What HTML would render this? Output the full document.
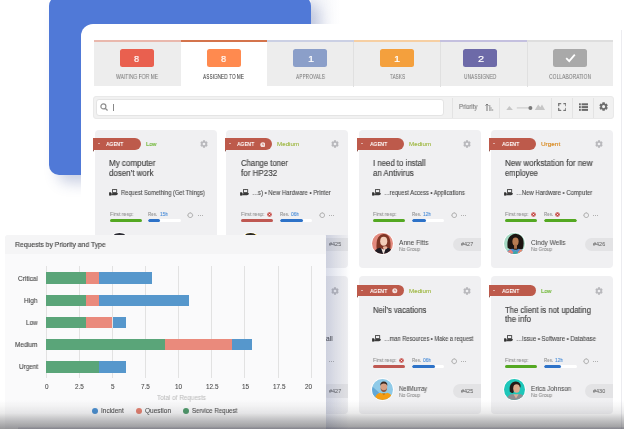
<!DOCTYPE html><html><head><meta charset="utf-8"><style>
*{margin:0;padding:0;box-sizing:border-box}
html,body{width:624px;height:429px;overflow:hidden;background:#fff;font-family:"Liberation Sans", sans-serif;position:relative}
.a{position:absolute}
.t{position:absolute;white-space:nowrap;line-height:1;transform-origin:0 0;will-change:transform}
.tab{position:absolute;top:40.2px;height:45.5px;background:#ededed}
.card{position:absolute;width:122.1px;height:138px;background:#f0f0f2;border-radius:4px}
.tag{position:absolute;width:47.2px;height:11.2px;background:#bd5a4b;border-radius:0 6px 6px 0}
.fold{position:absolute;width:0;height:0;border-top:2.2px solid #6e271e;border-left:1.7px solid transparent}
.bar{position:absolute;height:3px;border-radius:1.5px;overflow:hidden}
.pill{position:absolute;width:27.3px;height:13.5px;background:#e3e3e5;border-radius:7px 0 0 7px}
.av{position:absolute;width:23px;height:23px;border-radius:50%;overflow:hidden;border:0.75px solid #fff}
</style></head><body><div style="position:absolute;left:0;top:0;width:624px;height:429px;overflow:hidden;filter:blur(0.25px)">
<div class="a" style="left:49px;top:-4px;width:262px;height:178.6px;background:#5079d7;border-radius:10px;box-shadow:9px 8px 14px rgba(60,80,150,0.27)"></div>
<div class="a" style="left:81px;top:23.7px;width:541px;height:420px;background:#fff;border-radius:12px"></div>
<div class="a" style="left:311px;top:0;width:30px;height:24px;background:linear-gradient(to right,rgba(70,90,160,0.07),rgba(70,90,160,0.04) 50%,rgba(70,90,160,0))"></div>
<div class="a" style="left:621.2px;top:30px;width:0.8px;height:400px;background:rgba(110,110,140,0.13)"></div>
<div class="tab" style="left:94.00px;width:86.58px;background:#ededed"></div>
<div class="a" style="left:94.00px;top:40.1px;width:86.58px;height:1.6px;background:#e9b8ad"></div>
<div class="a" style="left:120.29px;top:48.5px;width:34px;height:18.4px;border-radius:2.5px;background:#e9604f"></div>
<div class="t" style="left:134.49px;top:54px;font-size:9.8px;color:#fff;transform:scaleX(0.933);-webkit-text-stroke:0.2px #fff;">8</div>
<div class="t" style="left:116.29px;top:74px;font-size:6.3px;color:#7d7d7d;transform:scaleX(0.796);-webkit-text-stroke:0.05px #7d7d7d;">WAITING FOR ME</div>
<div class="tab" style="left:180.58px;width:86.58px;background:#fff"></div>
<div class="a" style="left:180.58px;top:40.1px;width:86.58px;height:2px;background:#d4744c"></div>
<div class="a" style="left:206.87px;top:48.5px;width:34px;height:18.4px;border-radius:2.5px;background:#ff8a4f"></div>
<div class="t" style="left:221.07px;top:54px;font-size:9.8px;color:#fff;transform:scaleX(0.933);-webkit-text-stroke:0.2px #fff;">8</div>
<div class="t" style="left:203.37px;top:74px;font-size:6.3px;color:#3c3c3c;transform:scaleX(0.760);-webkit-text-stroke:0.05px #3c3c3c;">ASSIGNED TO ME</div>
<div class="tab" style="left:267.17px;width:86.58px;background:#ededed"></div>
<div class="a" style="left:267.17px;top:40.1px;width:86.58px;height:1.6px;background:#cbd0e4"></div>
<div class="a" style="left:293.46px;top:48.5px;width:34px;height:18.4px;border-radius:2.5px;background:#8b9fc9"></div>
<div class="t" style="left:307.66px;top:54px;font-size:9.8px;color:#fff;transform:scaleX(1.120);-webkit-text-stroke:0.2px #fff;">1</div>
<div class="t" style="left:296.06px;top:74px;font-size:6.3px;color:#7d7d7d;transform:scaleX(0.768);-webkit-text-stroke:0.05px #7d7d7d;">APPROVALS</div>
<div class="tab" style="left:353.75px;width:86.58px;background:#ededed"></div>
<div class="a" style="left:353.75px;top:40.1px;width:86.58px;height:1.6px;background:#f6cfa3"></div>
<div class="a" style="left:353.35px;top:42px;width:0.8px;height:44.5px;background:#e0e0e0"></div>
<div class="a" style="left:380.04px;top:48.5px;width:34px;height:18.4px;border-radius:2.5px;background:#f4a03d"></div>
<div class="t" style="left:394.24px;top:54px;font-size:9.8px;color:#fff;transform:scaleX(1.120);-webkit-text-stroke:0.2px #fff;">1</div>
<div class="t" style="left:389.54px;top:74px;font-size:6.3px;color:#7d7d7d;transform:scaleX(0.751);-webkit-text-stroke:0.05px #7d7d7d;">TASKS</div>
<div class="tab" style="left:440.33px;width:86.58px;background:#ededed"></div>
<div class="a" style="left:440.33px;top:40.1px;width:86.58px;height:1.6px;background:#c4c0df"></div>
<div class="a" style="left:439.93px;top:42px;width:0.8px;height:44.5px;background:#e0e0e0"></div>
<div class="a" style="left:463.32px;top:48.5px;width:34px;height:18.4px;border-radius:2.5px;background:#6d6aa8"></div>
<div class="t" style="left:477.52px;top:54px;font-size:9.8px;color:#fff;transform:scaleX(1.120);-webkit-text-stroke:0.2px #fff;">2</div>
<div class="t" style="left:464.02px;top:74px;font-size:6.3px;color:#7d7d7d;transform:scaleX(0.775);-webkit-text-stroke:0.05px #7d7d7d;">UNASSIGNED</div>
<div class="tab" style="left:526.92px;width:86.58px;background:#ededed"></div>
<div class="a" style="left:526.92px;top:40.1px;width:86.58px;height:1.6px;background:#dedede"></div>
<div class="a" style="left:526.52px;top:42px;width:0.8px;height:44.5px;background:#e0e0e0"></div>
<div class="a" style="left:553.21px;top:48.5px;width:34px;height:18.4px;border-radius:2.5px;background:#a9a9a9"></div>
<svg class="a" style="left:564.71px;top:52.8px" width="11" height="10" viewBox="0 0 11 10"><path d="M1.2 5.2 L4.2 8.2 L9.8 1.6" stroke="#fff" stroke-width="1.8" fill="none"/></svg>
<div class="t" style="left:548.96px;top:74px;font-size:6.3px;color:#7d7d7d;transform:scaleX(0.794);-webkit-text-stroke:0.05px #7d7d7d;">COLLABORATION</div>
<div class="a" style="left:93.3px;top:96.2px;width:520.7px;height:22.9px;background:#f1f1f1;border-radius:3px;border:1px solid #e9e9e9"></div>
<div class="a" style="left:96px;top:99.3px;width:347.6px;height:16.6px;background:#fff;border-radius:3px;border:1px solid #e4e4e4"></div>
<svg class="a" style="left:100px;top:102.8px" width="9" height="8" viewBox="0 0 9 8"><circle cx="3.4" cy="3.4" r="2.5" fill="none" stroke="#8f8f8f" stroke-width="1.2"/><line x1="5.2" y1="5.2" x2="7.6" y2="7.4" stroke="#8f8f8f" stroke-width="1.3"/></svg>
<div class="a" style="left:113.4px;top:104px;width:0.8px;height:6.5px;background:#888"></div>
<div class="a" style="left:452.2px;top:97.5px;width:0.8px;height:20px;background:#e3e3e3"></div>
<div class="a" style="left:498.8px;top:97.5px;width:0.8px;height:20px;background:#e3e3e3"></div>
<div class="a" style="left:551.2px;top:97.5px;width:0.8px;height:20px;background:#e3e3e3"></div>
<div class="a" style="left:572px;top:97.5px;width:0.8px;height:20px;background:#e3e3e3"></div>
<div class="a" style="left:593.1px;top:97.5px;width:0.8px;height:20px;background:#e3e3e3"></div>
<div class="t" style="left:459.00px;top:104px;font-size:6.3px;color:#7a7a7a;transform:scaleX(0.929);-webkit-text-stroke:0.12px #7a7a7a;">Priority</div>
<svg class="a" style="left:484.5px;top:102.5px" width="9" height="9" viewBox="0 0 9 9"><path d="M2 1.2 V8 M0.6 2.6 L2 1 L3.4 2.6" stroke="#777" stroke-width="1" fill="none"/><rect x="4.3" y="2" width="1" height="6" fill="#999"/><rect x="5.5" y="4" width="1" height="4" fill="#aaa"/><rect x="6.7" y="6" width="1.5" height="2" fill="#bbb"/></svg>
<svg class="a" style="left:505px;top:101.8px" width="41" height="9" viewBox="0 0 41 9"><path d="M1.3 7.9 L4.3 4.1 L7.9 7.9Z" fill="#c6c6c6"/><line x1="11.8" y1="5.9" x2="24" y2="5.9" stroke="#cdcdcd" stroke-width="1.2"/><circle cx="25.4" cy="5.9" r="2" fill="#7a7a7a"/><path d="M29.8 7.9 L33.2 2.6 L35.3 5.2 L37 2.6 L40 7.9Z" fill="#c6c6c6"/></svg>
<svg class="a" style="left:557.6px;top:103px" width="8.6" height="8.2" viewBox="0 0 8.6 8.2"><path d="M0.7 2.7 V0.7 H2.7 M5.9 0.7 H7.9 V2.7 M7.9 5.5 V7.5 H5.9 M2.7 7.5 H0.7 V5.5" stroke="#777" stroke-width="1.3" fill="none" stroke-linecap="round"/></svg>
<svg class="a" style="left:578.7px;top:103px" width="9" height="8.2" viewBox="0 0 9 8.2"><rect x="0" y="0.3" width="1.8" height="2" fill="#6a6a6a"/><rect x="2.6" y="0.3" width="6.4" height="2" fill="#6a6a6a"/><rect x="0" y="3.1" width="1.8" height="2" fill="#6a6a6a"/><rect x="2.6" y="3.1" width="6.4" height="2" fill="#6a6a6a"/><rect x="0" y="5.9" width="1.8" height="2" fill="#6a6a6a"/><rect x="2.6" y="5.9" width="6.4" height="2" fill="#6a6a6a"/></svg>
<svg class="a" style="left:599.4px;top:102.4px" width="9.2" height="9.2" viewBox="-5 -5 10 10"><path d="M-1.23,-4.64 L1.23,-4.64 L1.47,-3.29 L2.11,-2.91 L3.40,-3.39 L4.63,-1.25 L3.58,-0.37 L3.58,0.37 L4.63,1.25 L3.40,3.39 L2.11,2.91 L1.47,3.29 L1.23,4.64 L-1.23,4.64 L-1.47,3.29 L-2.11,2.91 L-3.40,3.39 L-4.63,1.25 L-3.58,0.37 L-3.58,-0.37 L-4.63,-1.25 L-3.40,-3.39 L-2.11,-2.91 L-1.47,-3.29Z M1.7,0 A1.7,1.7 0 1,0 -1.7,0 A1.7,1.7 0 1,0 1.7,0Z" fill="#6d6d6d" fill-rule="evenodd"/></svg>
<div class="card" style="left:95px;top:129.5px"></div>
<div class="tag" style="left:93.40px;top:138.40px"></div><div class="fold" style="left:93.40px;top:149.60px"></div>
<div class="a" style="left:97.60px;top:143.10px;width:0;height:0;border-left:1.9px solid transparent;border-right:1.9px solid transparent;border-top:1.9px solid #fff"></div>
<div class="t" style="left:106.00px;top:142px;font-size:5.6px;color:#fff;font-weight:700;transform:scaleX(0.873);">AGENT</div>
<div class="t" style="left:145.70px;top:141px;font-size:6.2px;color:#6ab42f;transform:scaleX(0.917);-webkit-text-stroke:0.14px #6ab42f;">Low</div>
<svg class="a" style="left:199.6px;top:140.3px" width="8" height="8" viewBox="-5 -5 10 10"><path d="M-1.23,-4.64 L1.23,-4.64 L1.47,-3.29 L2.11,-2.91 L3.40,-3.39 L4.63,-1.25 L3.58,-0.37 L3.58,0.37 L4.63,1.25 L3.40,3.39 L2.11,2.91 L1.47,3.29 L1.23,4.64 L-1.23,4.64 L-1.47,3.29 L-2.11,2.91 L-3.40,3.39 L-4.63,1.25 L-3.58,0.37 L-3.58,-0.37 L-4.63,-1.25 L-3.40,-3.39 L-2.11,-2.91 L-1.47,-3.29Z M1.7,0 A1.7,1.7 0 1,0 -1.7,0 A1.7,1.7 0 1,0 1.7,0Z" fill="#b8b8bc" fill-rule="evenodd"/></svg>
<div class="t" style="left:109.20px;top:159px;font-size:8.3px;color:#444;transform:scaleX(0.967);-webkit-text-stroke:0.16px #444;">My computer</div>
<div class="t" style="left:109.20px;top:169px;font-size:8.3px;color:#444;transform:scaleX(0.953);-webkit-text-stroke:0.16px #444;">dosen’t work</div>
<svg class="a" style="left:108.70px;top:188.80px" width="9.2" height="6.8" viewBox="0 0 9.2 6.8"><rect x="3.5" y="0.6" width="4.2" height="2.9" fill="none" stroke="#3d3d3d" stroke-width="0.85"/><path d="M5.1 0.4 H6.2 L5.65 1.3Z" fill="#3d3d3d"/><rect x="0.1" y="3.3" width="2.1" height="3.3" fill="#303030"/><path d="M2.2 4.2 H3.6 L4 3.9 H8.9 Q8.9 6.2 6.9 6.3 H2.2Z" fill="#3a3a3a"/></svg>
<div class="t" style="left:120.50px;top:190px;font-size:6.6px;color:#4a4a4a;transform:scaleX(0.870);-webkit-text-stroke:0.1px #4a4a4a;">Request Something (Get Things)</div>
<div class="t" style="left:109.70px;top:211px;font-size:6.0px;color:#8d8d8d;transform:scaleX(0.885);-webkit-text-stroke:0.07px #8d8d8d;">First resp:</div>
<div class="bar" style="left:109.70px;top:218.80px;width:32.1px;background:#54a822"></div>
<div class="t" style="left:148.20px;top:211px;font-size:6.0px;color:#8d8d8d;transform:scaleX(0.750);-webkit-text-stroke:0.07px #8d8d8d;">Res.</div>
<div class="t" style="left:159.80px;top:212px;font-size:5.0px;color:#3f86d6;transform:scaleX(0.946);-webkit-text-stroke:0.07px #3f86d6;">15h</div>
<div class="bar" style="left:148.20px;top:218.80px;width:32.8px;background:#fff"><div class="a" style="left:0;top:0;bottom:0;width:36%;background:#2d72c8;border-radius:1.5px"></div></div>
<svg class="a" style="left:187.20px;top:211.70px" width="6.5" height="6.5" viewBox="0 0 7 7"><circle cx="3.5" cy="3.5" r="2.5" fill="none" stroke="#aaa" stroke-width="0.9"/><path d="M3.5 0.3 V1.3 M3.5 5.7 V6.7 M0.3 3.5 H1.3 M5.7 3.5 H6.7" stroke="#aaa" stroke-width="0.8"/></svg>
<div class="a" style="left:197.60px;top:214.60px;width:5px;height:1px;background:repeating-linear-gradient(to right,#b0b0b0 0 1px,transparent 1px 2px)"></div>
<div class="av" style="left:107.80px;top:231.50px"><svg width="23" height="23" viewBox="0 0 22 22" style="display:block;margin:-0.75px"><rect width="22" height="22" fill="#d8d8dc"/><ellipse cx="11" cy="3.5" rx="6" ry="4" fill="#2b2b33"/></svg></div>
<div class="card" style="left:226.4px;top:129.5px"></div>
<div class="tag" style="left:224.80px;top:138.40px"></div><div class="fold" style="left:224.80px;top:149.60px"></div>
<div class="a" style="left:229.00px;top:143.10px;width:0;height:0;border-left:1.9px solid transparent;border-right:1.9px solid transparent;border-top:1.9px solid #fff"></div>
<div class="t" style="left:237.40px;top:142px;font-size:5.6px;color:#fff;font-weight:700;transform:scaleX(0.873);">AGENT</div>
<svg class="a" style="left:259.90px;top:141.70px" width="5.6" height="5.6" viewBox="0 0 6 6"><circle cx="3" cy="3" r="2.7" fill="#f4e2df"/><path d="M3 1.5 V3.1 H4.2" stroke="#bd5a4b" stroke-width="0.7" fill="none"/></svg>
<div class="t" style="left:277.10px;top:141px;font-size:6.2px;color:#a0b946;transform:scaleX(1.007);-webkit-text-stroke:0.14px #a0b946;">Medium</div>
<svg class="a" style="left:331.0px;top:140.3px" width="8" height="8" viewBox="-5 -5 10 10"><path d="M-1.23,-4.64 L1.23,-4.64 L1.47,-3.29 L2.11,-2.91 L3.40,-3.39 L4.63,-1.25 L3.58,-0.37 L3.58,0.37 L4.63,1.25 L3.40,3.39 L2.11,2.91 L1.47,3.29 L1.23,4.64 L-1.23,4.64 L-1.47,3.29 L-2.11,2.91 L-3.40,3.39 L-4.63,1.25 L-3.58,0.37 L-3.58,-0.37 L-4.63,-1.25 L-3.40,-3.39 L-2.11,-2.91 L-1.47,-3.29Z M1.7,0 A1.7,1.7 0 1,0 -1.7,0 A1.7,1.7 0 1,0 1.7,0Z" fill="#b8b8bc" fill-rule="evenodd"/></svg>
<div class="t" style="left:240.60px;top:159px;font-size:8.3px;color:#444;transform:scaleX(0.932);-webkit-text-stroke:0.16px #444;">Change toner</div>
<div class="t" style="left:240.60px;top:169px;font-size:8.3px;color:#444;transform:scaleX(0.967);-webkit-text-stroke:0.16px #444;">for HP232</div>
<svg class="a" style="left:240.10px;top:188.80px" width="9.2" height="6.8" viewBox="0 0 9.2 6.8"><rect x="3.5" y="0.6" width="4.2" height="2.9" fill="none" stroke="#3d3d3d" stroke-width="0.85"/><path d="M5.1 0.4 H6.2 L5.65 1.3Z" fill="#3d3d3d"/><rect x="0.1" y="3.3" width="2.1" height="3.3" fill="#303030"/><path d="M2.2 4.2 H3.6 L4 3.9 H8.9 Q8.9 6.2 6.9 6.3 H2.2Z" fill="#3a3a3a"/></svg>
<div class="t" style="left:251.90px;top:190px;font-size:6.6px;color:#4a4a4a;transform:scaleX(0.905);-webkit-text-stroke:0.1px #4a4a4a;">…s) • New Hardware • Printer</div>
<div class="t" style="left:241.10px;top:211px;font-size:6.0px;color:#8d8d8d;transform:scaleX(0.885);-webkit-text-stroke:0.07px #8d8d8d;">First resp:</div>
<svg class="a" style="left:267.00px;top:211.80px" width="5" height="5" viewBox="0 0 5 5"><circle cx="2.5" cy="2.5" r="2.3" fill="#c44a45"/><path d="M1.6 1.6 L3.4 3.4 M3.4 1.6 L1.6 3.4" stroke="#fff" stroke-width="0.7"/></svg>
<div class="bar" style="left:241.10px;top:218.80px;width:32.1px;background:#bf5852"></div>
<div class="t" style="left:279.60px;top:211px;font-size:6.0px;color:#8d8d8d;transform:scaleX(0.750);-webkit-text-stroke:0.07px #8d8d8d;">Res.</div>
<div class="t" style="left:291.20px;top:212px;font-size:5.0px;color:#3f86d6;transform:scaleX(0.946);-webkit-text-stroke:0.07px #3f86d6;">06h</div>
<div class="bar" style="left:279.60px;top:218.80px;width:32.8px;background:#fff"><div class="a" style="left:0;top:0;bottom:0;width:72%;background:#2d72c8;border-radius:1.5px"></div></div>
<svg class="a" style="left:318.60px;top:211.70px" width="6.5" height="6.5" viewBox="0 0 7 7"><circle cx="3.5" cy="3.5" r="2.5" fill="none" stroke="#aaa" stroke-width="0.9"/><path d="M3.5 0.3 V1.3 M3.5 5.7 V6.7 M0.3 3.5 H1.3 M5.7 3.5 H6.7" stroke="#aaa" stroke-width="0.8"/></svg>
<div class="a" style="left:329.00px;top:214.60px;width:5px;height:1px;background:repeating-linear-gradient(to right,#b0b0b0 0 1px,transparent 1px 2px)"></div>
<div class="av" style="left:239.20px;top:231.50px"><svg width="23" height="23" viewBox="0 0 22 22" style="display:block;margin:-0.75px"><rect width="22" height="22" fill="#f5c431"/><ellipse cx="11" cy="4" rx="5" ry="4" fill="#2a2a2a"/></svg></div>
<div class="pill" style="left:321.20px;top:237.50px"></div>
<div class="t" style="left:329.20px;top:242px;font-size:5.5px;color:#5a5a5a;transform:scaleX(0.986);-webkit-text-stroke:0.02px #5a5a5a;">#425</div>
<div class="card" style="left:358.5px;top:129.5px"></div>
<div class="tag" style="left:356.90px;top:138.40px"></div><div class="fold" style="left:356.90px;top:149.60px"></div>
<div class="a" style="left:361.10px;top:143.10px;width:0;height:0;border-left:1.9px solid transparent;border-right:1.9px solid transparent;border-top:1.9px solid #fff"></div>
<div class="t" style="left:369.50px;top:142px;font-size:5.6px;color:#fff;font-weight:700;transform:scaleX(0.873);">AGENT</div>
<div class="t" style="left:409.20px;top:141px;font-size:6.2px;color:#a0b946;transform:scaleX(1.007);-webkit-text-stroke:0.14px #a0b946;">Medium</div>
<svg class="a" style="left:463.1px;top:140.3px" width="8" height="8" viewBox="-5 -5 10 10"><path d="M-1.23,-4.64 L1.23,-4.64 L1.47,-3.29 L2.11,-2.91 L3.40,-3.39 L4.63,-1.25 L3.58,-0.37 L3.58,0.37 L4.63,1.25 L3.40,3.39 L2.11,2.91 L1.47,3.29 L1.23,4.64 L-1.23,4.64 L-1.47,3.29 L-2.11,2.91 L-3.40,3.39 L-4.63,1.25 L-3.58,0.37 L-3.58,-0.37 L-4.63,-1.25 L-3.40,-3.39 L-2.11,-2.91 L-1.47,-3.29Z M1.7,0 A1.7,1.7 0 1,0 -1.7,0 A1.7,1.7 0 1,0 1.7,0Z" fill="#b8b8bc" fill-rule="evenodd"/></svg>
<div class="t" style="left:372.70px;top:159px;font-size:8.3px;color:#444;transform:scaleX(0.940);-webkit-text-stroke:0.16px #444;">I need to install</div>
<div class="t" style="left:372.70px;top:169px;font-size:8.3px;color:#444;transform:scaleX(0.949);-webkit-text-stroke:0.16px #444;">an Antivirus</div>
<svg class="a" style="left:372.20px;top:188.80px" width="9.2" height="6.8" viewBox="0 0 9.2 6.8"><rect x="3.5" y="0.6" width="4.2" height="2.9" fill="none" stroke="#3d3d3d" stroke-width="0.85"/><path d="M5.1 0.4 H6.2 L5.65 1.3Z" fill="#3d3d3d"/><rect x="0.1" y="3.3" width="2.1" height="3.3" fill="#303030"/><path d="M2.2 4.2 H3.6 L4 3.9 H8.9 Q8.9 6.2 6.9 6.3 H2.2Z" fill="#3a3a3a"/></svg>
<div class="t" style="left:384.00px;top:190px;font-size:6.6px;color:#4a4a4a;transform:scaleX(0.873);-webkit-text-stroke:0.1px #4a4a4a;">…request Access • Applications</div>
<div class="t" style="left:373.20px;top:211px;font-size:6.0px;color:#8d8d8d;transform:scaleX(0.885);-webkit-text-stroke:0.07px #8d8d8d;">First resp:</div>
<div class="bar" style="left:373.20px;top:218.80px;width:32.1px;background:#54a822"></div>
<div class="t" style="left:411.70px;top:211px;font-size:6.0px;color:#8d8d8d;transform:scaleX(0.750);-webkit-text-stroke:0.07px #8d8d8d;">Res.</div>
<div class="t" style="left:423.30px;top:212px;font-size:5.0px;color:#3f86d6;transform:scaleX(0.946);-webkit-text-stroke:0.07px #3f86d6;">12h</div>
<div class="bar" style="left:411.70px;top:218.80px;width:32.8px;background:#fff"><div class="a" style="left:0;top:0;bottom:0;width:43%;background:#2d72c8;border-radius:1.5px"></div></div>
<svg class="a" style="left:450.70px;top:211.70px" width="6.5" height="6.5" viewBox="0 0 7 7"><circle cx="3.5" cy="3.5" r="2.5" fill="none" stroke="#aaa" stroke-width="0.9"/><path d="M3.5 0.3 V1.3 M3.5 5.7 V6.7 M0.3 3.5 H1.3 M5.7 3.5 H6.7" stroke="#aaa" stroke-width="0.8"/></svg>
<div class="a" style="left:461.10px;top:214.60px;width:5px;height:1px;background:repeating-linear-gradient(to right,#b0b0b0 0 1px,transparent 1px 2px)"></div>
<div class="av" style="left:371.30px;top:231.50px"><svg width="23" height="23" viewBox="0 0 22 22" style="display:block;margin:-0.75px"><rect width="22" height="22" fill="#e38a7e"/><path d="M4.5 17 Q3.6 9 6 5 Q8.5 1.8 11.5 2 Q15 2 16.6 5.5 Q18.3 10 17.5 17Z" fill="#7e3524"/><ellipse cx="11.2" cy="8.8" rx="3.4" ry="4.3" fill="#f2cdb8"/><path d="M1 23 Q2 15.8 7.5 15 L11 17 L14.5 15 Q20 15.8 21 23Z" fill="#1f1b22"/><path d="M8.8 15.5 L11 22 L13.2 15.5 L11 16.8Z" fill="#e9dcd6"/><ellipse cx="12.6" cy="15" rx="2.2" ry="1.4" fill="#e8b49c"/></svg></div>
<div class="t" style="left:399.10px;top:240px;font-size:6.6px;color:#4a4a4a;transform:scaleX(0.987);-webkit-text-stroke:0.04px #4a4a4a;">Anne Fitts</div>
<div class="t" style="left:399.10px;top:247px;font-size:5.5px;color:#8a8a8a;transform:scaleX(0.883);-webkit-text-stroke:0.07px #8a8a8a;">No Group</div>
<div class="pill" style="left:453.30px;top:237.50px"></div>
<div class="t" style="left:461.30px;top:242px;font-size:5.5px;color:#5a5a5a;transform:scaleX(0.986);-webkit-text-stroke:0.02px #5a5a5a;">#427</div>
<div class="card" style="left:490.6px;top:129.5px"></div>
<div class="tag" style="left:489.00px;top:138.40px"></div><div class="fold" style="left:489.00px;top:149.60px"></div>
<div class="a" style="left:493.20px;top:143.10px;width:0;height:0;border-left:1.9px solid transparent;border-right:1.9px solid transparent;border-top:1.9px solid #fff"></div>
<div class="t" style="left:501.60px;top:142px;font-size:5.6px;color:#fff;font-weight:700;transform:scaleX(0.873);">AGENT</div>
<div class="t" style="left:541.30px;top:141px;font-size:6.2px;color:#d8891f;transform:scaleX(1.034);-webkit-text-stroke:0.14px #d8891f;">Urgent</div>
<svg class="a" style="left:595.2px;top:140.3px" width="8" height="8" viewBox="-5 -5 10 10"><path d="M-1.23,-4.64 L1.23,-4.64 L1.47,-3.29 L2.11,-2.91 L3.40,-3.39 L4.63,-1.25 L3.58,-0.37 L3.58,0.37 L4.63,1.25 L3.40,3.39 L2.11,2.91 L1.47,3.29 L1.23,4.64 L-1.23,4.64 L-1.47,3.29 L-2.11,2.91 L-3.40,3.39 L-4.63,1.25 L-3.58,0.37 L-3.58,-0.37 L-4.63,-1.25 L-3.40,-3.39 L-2.11,-2.91 L-1.47,-3.29Z M1.7,0 A1.7,1.7 0 1,0 -1.7,0 A1.7,1.7 0 1,0 1.7,0Z" fill="#b8b8bc" fill-rule="evenodd"/></svg>
<div class="t" style="left:504.80px;top:159px;font-size:8.3px;color:#444;transform:scaleX(0.968);-webkit-text-stroke:0.16px #444;">New workstation for new</div>
<div class="t" style="left:504.80px;top:169px;font-size:8.3px;color:#444;transform:scaleX(0.916);-webkit-text-stroke:0.16px #444;">employee</div>
<svg class="a" style="left:504.30px;top:188.80px" width="9.2" height="6.8" viewBox="0 0 9.2 6.8"><rect x="3.5" y="0.6" width="4.2" height="2.9" fill="none" stroke="#3d3d3d" stroke-width="0.85"/><path d="M5.1 0.4 H6.2 L5.65 1.3Z" fill="#3d3d3d"/><rect x="0.1" y="3.3" width="2.1" height="3.3" fill="#303030"/><path d="M2.2 4.2 H3.6 L4 3.9 H8.9 Q8.9 6.2 6.9 6.3 H2.2Z" fill="#3a3a3a"/></svg>
<div class="t" style="left:516.10px;top:190px;font-size:6.6px;color:#4a4a4a;transform:scaleX(0.896);-webkit-text-stroke:0.1px #4a4a4a;">…New Hardware • Computer</div>
<div class="t" style="left:505.30px;top:211px;font-size:6.0px;color:#8d8d8d;transform:scaleX(0.885);-webkit-text-stroke:0.07px #8d8d8d;">First resp:</div>
<svg class="a" style="left:531.20px;top:211.80px" width="5" height="5" viewBox="0 0 5 5"><circle cx="2.5" cy="2.5" r="2.3" fill="#c44a45"/><path d="M1.6 1.6 L3.4 3.4 M3.4 1.6 L1.6 3.4" stroke="#fff" stroke-width="0.7"/></svg>
<div class="bar" style="left:505.30px;top:218.80px;width:32.1px;background:#54a822"></div>
<div class="t" style="left:543.80px;top:211px;font-size:6.0px;color:#8d8d8d;transform:scaleX(0.750);-webkit-text-stroke:0.07px #8d8d8d;">Res.</div>
<svg class="a" style="left:555.00px;top:211.80px" width="5" height="5" viewBox="0 0 5 5"><circle cx="2.5" cy="2.5" r="2.3" fill="#c44a45"/><path d="M1.6 1.6 L3.4 3.4 M3.4 1.6 L1.6 3.4" stroke="#fff" stroke-width="0.7"/></svg>
<div class="bar" style="left:543.80px;top:218.80px;width:32.8px;background:#fff"><div class="a" style="left:0;top:0;bottom:0;width:100%;background:#54a822;border-radius:1.5px"></div></div>
<svg class="a" style="left:582.80px;top:211.70px" width="6.5" height="6.5" viewBox="0 0 7 7"><circle cx="3.5" cy="3.5" r="2.5" fill="none" stroke="#aaa" stroke-width="0.9"/><path d="M3.5 0.3 V1.3 M3.5 5.7 V6.7 M0.3 3.5 H1.3 M5.7 3.5 H6.7" stroke="#aaa" stroke-width="0.8"/></svg>
<div class="a" style="left:593.20px;top:214.60px;width:5px;height:1px;background:repeating-linear-gradient(to right,#b0b0b0 0 1px,transparent 1px 2px)"></div>
<div class="av" style="left:503.40px;top:231.50px"><svg width="23" height="23" viewBox="0 0 22 22" style="display:block;margin:-0.75px"><rect width="22" height="22" fill="#a6dac4"/><path d="M3.5 15 Q2.5 7 6 3.8 Q9 1.5 12 1.8 Q16.5 2.2 18.2 6.5 Q19.5 11 18 16 Q15 17.5 11 17 Q6 17.5 3.5 15Z" fill="#1c1512"/><ellipse cx="11" cy="9.2" rx="3" ry="4" fill="#b67c52"/><rect x="9.6" y="12" width="2.8" height="4" fill="#a86f48"/><path d="M1 23 Q2 16.5 8 16 L11 17.5 L14 16 Q20 16.5 21 23Z" fill="#4f8fcf"/><path d="M3 19 L6.5 16.6 L9 19.5 L7 23 L3 23Z" fill="#e5837a"/><path d="M13 19.5 L15.8 16.6 L19.5 19 L19 23 L14.5 23Z" fill="#e98a6c"/><path d="M8.5 20 L11 18 L13.5 20 L12.5 23 L9.5 23Z" fill="#3ea9a0"/></svg></div>
<div class="t" style="left:531.20px;top:240px;font-size:6.6px;color:#4a4a4a;transform:scaleX(0.989);-webkit-text-stroke:0.04px #4a4a4a;">Cindy Wells</div>
<div class="t" style="left:531.20px;top:247px;font-size:5.5px;color:#8a8a8a;transform:scaleX(0.883);-webkit-text-stroke:0.07px #8a8a8a;">No Group</div>
<div class="pill" style="left:585.40px;top:237.50px"></div>
<div class="t" style="left:593.40px;top:242px;font-size:5.5px;color:#5a5a5a;transform:scaleX(0.986);-webkit-text-stroke:0.02px #5a5a5a;">#426</div>
<div class="card" style="left:226.4px;top:276px"></div>
<div class="tag" style="left:224.80px;top:284.90px"></div><div class="fold" style="left:224.80px;top:296.10px"></div>
<div class="a" style="left:229.00px;top:289.60px;width:0;height:0;border-left:1.9px solid transparent;border-right:1.9px solid transparent;border-top:1.9px solid #fff"></div>
<div class="t" style="left:237.40px;top:289px;font-size:5.6px;color:#fff;font-weight:700;transform:scaleX(0.873);">AGENT</div>
<div class="t" style="left:277.10px;top:288px;font-size:6.2px;color:#a0b946;transform:scaleX(1.007);-webkit-text-stroke:0.14px #a0b946;">Medium</div>
<svg class="a" style="left:331.0px;top:286.8px" width="8" height="8" viewBox="-5 -5 10 10"><path d="M-1.23,-4.64 L1.23,-4.64 L1.47,-3.29 L2.11,-2.91 L3.40,-3.39 L4.63,-1.25 L3.58,-0.37 L3.58,0.37 L4.63,1.25 L3.40,3.39 L2.11,2.91 L1.47,3.29 L1.23,4.64 L-1.23,4.64 L-1.47,3.29 L-2.11,2.91 L-3.40,3.39 L-4.63,1.25 L-3.58,0.37 L-3.58,-0.37 L-4.63,-1.25 L-3.40,-3.39 L-2.11,-2.91 L-1.47,-3.29Z M1.7,0 A1.7,1.7 0 1,0 -1.7,0 A1.7,1.7 0 1,0 1.7,0Z" fill="#b8b8bc" fill-rule="evenodd"/></svg>
<div class="t" style="left:240.60px;top:306px;font-size:8.3px;color:#444;transform:scaleX(0.897);-webkit-text-stroke:0.16px #444;">Install software</div>
<svg class="a" style="left:240.10px;top:335.30px" width="9.2" height="6.8" viewBox="0 0 9.2 6.8"><rect x="3.5" y="0.6" width="4.2" height="2.9" fill="none" stroke="#3d3d3d" stroke-width="0.85"/><path d="M5.1 0.4 H6.2 L5.65 1.3Z" fill="#3d3d3d"/><rect x="0.1" y="3.3" width="2.1" height="3.3" fill="#303030"/><path d="M2.2 4.2 H3.6 L4 3.9 H8.9 Q8.9 6.2 6.9 6.3 H2.2Z" fill="#3a3a3a"/></svg>
<div class="t" style="left:251.90px;top:336px;font-size:6.6px;color:#4a4a4a;transform:scaleX(0.962);-webkit-text-stroke:0.1px #4a4a4a;">…Software • Software Install</div>
<div class="t" style="left:241.10px;top:357px;font-size:6.0px;color:#8d8d8d;transform:scaleX(0.885);-webkit-text-stroke:0.07px #8d8d8d;">First resp:</div>
<div class="bar" style="left:241.10px;top:365.30px;width:32.1px;background:#54a822"></div>
<div class="t" style="left:279.60px;top:357px;font-size:6.0px;color:#8d8d8d;transform:scaleX(0.750);-webkit-text-stroke:0.07px #8d8d8d;">Res.</div>
<div class="t" style="left:291.20px;top:358px;font-size:5.0px;color:#3f86d6;transform:scaleX(0.946);-webkit-text-stroke:0.07px #3f86d6;">12h</div>
<div class="bar" style="left:279.60px;top:365.30px;width:32.8px;background:#fff"><div class="a" style="left:0;top:0;bottom:0;width:43%;background:#2d72c8;border-radius:1.5px"></div></div>
<svg class="a" style="left:318.60px;top:358.20px" width="6.5" height="6.5" viewBox="0 0 7 7"><circle cx="3.5" cy="3.5" r="2.5" fill="none" stroke="#aaa" stroke-width="0.9"/><path d="M3.5 0.3 V1.3 M3.5 5.7 V6.7 M0.3 3.5 H1.3 M5.7 3.5 H6.7" stroke="#aaa" stroke-width="0.8"/></svg>
<div class="a" style="left:329.00px;top:361.10px;width:5px;height:1px;background:repeating-linear-gradient(to right,#b0b0b0 0 1px,transparent 1px 2px)"></div>
<div class="av" style="left:239.20px;top:378.00px"><svg width="23" height="23" viewBox="0 0 22 22" style="display:block;margin:-0.75px"><rect width="22" height="22" fill="#d8d8dc"/><ellipse cx="11" cy="3.5" rx="6" ry="4" fill="#2b2b33"/></svg></div>
<div class="pill" style="left:321.20px;top:384.00px"></div>
<div class="t" style="left:329.20px;top:389px;font-size:5.5px;color:#5a5a5a;transform:scaleX(0.986);-webkit-text-stroke:0.02px #5a5a5a;">#427</div>
<div class="card" style="left:358.5px;top:276px"></div>
<div class="tag" style="left:356.90px;top:284.90px"></div><div class="fold" style="left:356.90px;top:296.10px"></div>
<div class="a" style="left:361.10px;top:289.60px;width:0;height:0;border-left:1.9px solid transparent;border-right:1.9px solid transparent;border-top:1.9px solid #fff"></div>
<div class="t" style="left:369.50px;top:289px;font-size:5.6px;color:#fff;font-weight:700;transform:scaleX(0.873);">AGENT</div>
<svg class="a" style="left:392.00px;top:288.20px" width="5.6" height="5.6" viewBox="0 0 6 6"><circle cx="3" cy="3" r="2.7" fill="#f4e2df"/><path d="M3 1.5 V3.1 H4.2" stroke="#bd5a4b" stroke-width="0.7" fill="none"/></svg>
<div class="t" style="left:409.20px;top:288px;font-size:6.2px;color:#a0b946;transform:scaleX(1.007);-webkit-text-stroke:0.14px #a0b946;">Medium</div>
<svg class="a" style="left:463.1px;top:286.8px" width="8" height="8" viewBox="-5 -5 10 10"><path d="M-1.23,-4.64 L1.23,-4.64 L1.47,-3.29 L2.11,-2.91 L3.40,-3.39 L4.63,-1.25 L3.58,-0.37 L3.58,0.37 L4.63,1.25 L3.40,3.39 L2.11,2.91 L1.47,3.29 L1.23,4.64 L-1.23,4.64 L-1.47,3.29 L-2.11,2.91 L-3.40,3.39 L-4.63,1.25 L-3.58,0.37 L-3.58,-0.37 L-4.63,-1.25 L-3.40,-3.39 L-2.11,-2.91 L-1.47,-3.29Z M1.7,0 A1.7,1.7 0 1,0 -1.7,0 A1.7,1.7 0 1,0 1.7,0Z" fill="#b8b8bc" fill-rule="evenodd"/></svg>
<div class="t" style="left:372.70px;top:306px;font-size:8.3px;color:#444;transform:scaleX(0.930);-webkit-text-stroke:0.16px #444;">Neil’s vacations</div>
<svg class="a" style="left:372.20px;top:335.30px" width="9.2" height="6.8" viewBox="0 0 9.2 6.8"><rect x="3.5" y="0.6" width="4.2" height="2.9" fill="none" stroke="#3d3d3d" stroke-width="0.85"/><path d="M5.1 0.4 H6.2 L5.65 1.3Z" fill="#3d3d3d"/><rect x="0.1" y="3.3" width="2.1" height="3.3" fill="#303030"/><path d="M2.2 4.2 H3.6 L4 3.9 H8.9 Q8.9 6.2 6.9 6.3 H2.2Z" fill="#3a3a3a"/></svg>
<div class="t" style="left:384.00px;top:336px;font-size:6.6px;color:#4a4a4a;transform:scaleX(0.858);-webkit-text-stroke:0.1px #4a4a4a;">…man Resources • Make a request</div>
<div class="t" style="left:373.20px;top:357px;font-size:6.0px;color:#8d8d8d;transform:scaleX(0.885);-webkit-text-stroke:0.07px #8d8d8d;">First resp:</div>
<svg class="a" style="left:399.10px;top:358.30px" width="5" height="5" viewBox="0 0 5 5"><circle cx="2.5" cy="2.5" r="2.3" fill="#c44a45"/><path d="M1.6 1.6 L3.4 3.4 M3.4 1.6 L1.6 3.4" stroke="#fff" stroke-width="0.7"/></svg>
<div class="bar" style="left:373.20px;top:365.30px;width:32.1px;background:#bf5852"></div>
<div class="t" style="left:411.70px;top:357px;font-size:6.0px;color:#8d8d8d;transform:scaleX(0.750);-webkit-text-stroke:0.07px #8d8d8d;">Res.</div>
<div class="t" style="left:423.30px;top:358px;font-size:5.0px;color:#3f86d6;transform:scaleX(0.946);-webkit-text-stroke:0.07px #3f86d6;">06h</div>
<div class="bar" style="left:411.70px;top:365.30px;width:32.8px;background:#fff"><div class="a" style="left:0;top:0;bottom:0;width:72%;background:#2d72c8;border-radius:1.5px"></div></div>
<svg class="a" style="left:450.70px;top:358.20px" width="6.5" height="6.5" viewBox="0 0 7 7"><circle cx="3.5" cy="3.5" r="2.5" fill="none" stroke="#aaa" stroke-width="0.9"/><path d="M3.5 0.3 V1.3 M3.5 5.7 V6.7 M0.3 3.5 H1.3 M5.7 3.5 H6.7" stroke="#aaa" stroke-width="0.8"/></svg>
<div class="a" style="left:461.10px;top:361.10px;width:5px;height:1px;background:repeating-linear-gradient(to right,#b0b0b0 0 1px,transparent 1px 2px)"></div>
<div class="av" style="left:371.30px;top:378.00px"><svg width="23" height="23" viewBox="0 0 22 22" style="display:block;margin:-0.75px"><rect width="22" height="22" fill="#8fcae8"/><path d="M0 8 L7 14 L0 22Z" fill="#63a8d6"/><ellipse cx="11.3" cy="8.6" rx="3.3" ry="4.4" fill="#d7a184"/><path d="M7.9 7.3 Q7.8 3.6 11.3 3.4 Q14.8 3.6 14.7 7.3 Q13.6 5.2 11.3 5.3 Q9 5.2 7.9 7.3Z" fill="#3b2a22"/><path d="M8.2 9.5 Q8.6 13.2 11.3 13.3 Q14 13.2 14.4 9.5 Q13.5 11.6 11.3 11.6 Q9.1 11.6 8.2 9.5Z" fill="#8a5a45"/><path d="M2 23 Q2.6 15 8 14 L11.3 15.5 L14.6 14 Q20 15 20.6 23Z" fill="#f59d14"/><path d="M9.5 14.5 L11.3 16.5 L13.1 14.5Z" fill="#c77a0e"/></svg></div>
<div class="t" style="left:399.10px;top:386px;font-size:6.6px;color:#4a4a4a;transform:scaleX(0.881);-webkit-text-stroke:0.04px #4a4a4a;">NeilMurray</div>
<div class="t" style="left:399.10px;top:393px;font-size:5.5px;color:#8a8a8a;transform:scaleX(0.883);-webkit-text-stroke:0.07px #8a8a8a;">No Group</div>
<div class="pill" style="left:453.30px;top:384.00px"></div>
<div class="t" style="left:461.30px;top:389px;font-size:5.5px;color:#5a5a5a;transform:scaleX(0.986);-webkit-text-stroke:0.02px #5a5a5a;">#425</div>
<div class="card" style="left:490.6px;top:276px"></div>
<div class="tag" style="left:489.00px;top:284.90px"></div><div class="fold" style="left:489.00px;top:296.10px"></div>
<div class="a" style="left:493.20px;top:289.60px;width:0;height:0;border-left:1.9px solid transparent;border-right:1.9px solid transparent;border-top:1.9px solid #fff"></div>
<div class="t" style="left:501.60px;top:289px;font-size:5.6px;color:#fff;font-weight:700;transform:scaleX(0.873);">AGENT</div>
<div class="t" style="left:541.30px;top:288px;font-size:6.2px;color:#6ab42f;transform:scaleX(0.917);-webkit-text-stroke:0.14px #6ab42f;">Low</div>
<svg class="a" style="left:595.2px;top:286.8px" width="8" height="8" viewBox="-5 -5 10 10"><path d="M-1.23,-4.64 L1.23,-4.64 L1.47,-3.29 L2.11,-2.91 L3.40,-3.39 L4.63,-1.25 L3.58,-0.37 L3.58,0.37 L4.63,1.25 L3.40,3.39 L2.11,2.91 L1.47,3.29 L1.23,4.64 L-1.23,4.64 L-1.47,3.29 L-2.11,2.91 L-3.40,3.39 L-4.63,1.25 L-3.58,0.37 L-3.58,-0.37 L-4.63,-1.25 L-3.40,-3.39 L-2.11,-2.91 L-1.47,-3.29Z M1.7,0 A1.7,1.7 0 1,0 -1.7,0 A1.7,1.7 0 1,0 1.7,0Z" fill="#b8b8bc" fill-rule="evenodd"/></svg>
<div class="t" style="left:504.80px;top:306px;font-size:8.3px;color:#444;transform:scaleX(0.931);-webkit-text-stroke:0.16px #444;">The client is not updating</div>
<div class="t" style="left:504.80px;top:315px;font-size:8.3px;color:#444;transform:scaleX(0.960);-webkit-text-stroke:0.16px #444;">the info</div>
<svg class="a" style="left:504.30px;top:335.30px" width="9.2" height="6.8" viewBox="0 0 9.2 6.8"><rect x="3.5" y="0.6" width="4.2" height="2.9" fill="none" stroke="#3d3d3d" stroke-width="0.85"/><path d="M5.1 0.4 H6.2 L5.65 1.3Z" fill="#3d3d3d"/><rect x="0.1" y="3.3" width="2.1" height="3.3" fill="#303030"/><path d="M2.2 4.2 H3.6 L4 3.9 H8.9 Q8.9 6.2 6.9 6.3 H2.2Z" fill="#3a3a3a"/></svg>
<div class="t" style="left:516.10px;top:336px;font-size:6.6px;color:#4a4a4a;transform:scaleX(0.902);-webkit-text-stroke:0.1px #4a4a4a;">…Issue • Software • Database</div>
<div class="t" style="left:505.30px;top:357px;font-size:6.0px;color:#8d8d8d;transform:scaleX(0.885);-webkit-text-stroke:0.07px #8d8d8d;">First resp:</div>
<div class="bar" style="left:505.30px;top:365.30px;width:32.1px;background:#54a822"></div>
<div class="t" style="left:543.80px;top:357px;font-size:6.0px;color:#8d8d8d;transform:scaleX(0.750);-webkit-text-stroke:0.07px #8d8d8d;">Res.</div>
<div class="t" style="left:555.40px;top:358px;font-size:5.0px;color:#3f86d6;transform:scaleX(0.946);-webkit-text-stroke:0.07px #3f86d6;">12h</div>
<div class="bar" style="left:543.80px;top:365.30px;width:32.8px;background:#fff"><div class="a" style="left:0;top:0;bottom:0;width:53%;background:#2d72c8;border-radius:1.5px"></div></div>
<svg class="a" style="left:582.80px;top:358.20px" width="6.5" height="6.5" viewBox="0 0 7 7"><circle cx="3.5" cy="3.5" r="2.5" fill="none" stroke="#aaa" stroke-width="0.9"/><path d="M3.5 0.3 V1.3 M3.5 5.7 V6.7 M0.3 3.5 H1.3 M5.7 3.5 H6.7" stroke="#aaa" stroke-width="0.8"/></svg>
<div class="a" style="left:593.20px;top:361.10px;width:5px;height:1px;background:repeating-linear-gradient(to right,#b0b0b0 0 1px,transparent 1px 2px)"></div>
<div class="av" style="left:503.40px;top:378.00px"><svg width="23" height="23" viewBox="0 0 22 22" style="display:block;margin:-0.75px"><rect width="22" height="22" fill="#1ec7ba"/><path d="M5.5 13 Q4.6 6.5 8 4.3 Q11 2.6 14 4 Q16.3 5.4 15.8 9 L13 8 Q10 9 9 14 Q7 15 5.5 13Z" fill="#241a18"/><ellipse cx="12" cy="10" rx="3.2" ry="4.1" fill="#dba98c"/><path d="M1.5 23 Q2.5 16 8 15.3 L11.5 16.5 L15 15.3 Q20 16 20.5 23Z" fill="#8e8e92"/><path d="M9 15.6 L11.5 19.5 L14 15.6Z" fill="#d8b09a"/></svg></div>
<div class="t" style="left:531.20px;top:386px;font-size:6.6px;color:#4a4a4a;transform:scaleX(0.962);-webkit-text-stroke:0.04px #4a4a4a;">Erica Johnson</div>
<div class="t" style="left:531.20px;top:393px;font-size:5.5px;color:#8a8a8a;transform:scaleX(0.883);-webkit-text-stroke:0.07px #8a8a8a;">No Group</div>
<div class="pill" style="left:585.40px;top:384.00px"></div>
<div class="t" style="left:593.40px;top:389px;font-size:5.5px;color:#5a5a5a;transform:scaleX(0.986);-webkit-text-stroke:0.02px #5a5a5a;">#430</div>
<div class="a" style="left:325.8px;top:235px;width:24px;height:200px;background:linear-gradient(to right,rgba(80,95,150,0.22),rgba(80,95,150,0.10) 50%,rgba(80,95,150,0))"></div>
<div class="a" style="left:4.6px;top:235px;width:321.2px;height:210px;background:#fafafb;border-radius:3px 3px 0 0"></div>
<div class="a" style="left:4.6px;top:235px;width:321.2px;height:18.5px;background:#f5f5f6;border-radius:3px 3px 0 0"></div>
<div class="t" style="left:14.80px;top:241px;font-size:7.6px;color:#484848;transform:scaleX(0.896);-webkit-text-stroke:0.16px #484848;">Requests by Priority and Type</div>
<div class="a" style="left:45.85px;top:266px;width:0.9px;height:111.5px;background:#e2e2e2"></div>
<div class="t" style="left:44.70px;top:384px;font-size:6.4px;color:#4a4a4a;-webkit-text-stroke:0.08px #4a4a4a;">0</div>
<div class="a" style="left:78.95px;top:266px;width:0.9px;height:111.5px;background:#e2e2e2"></div>
<div class="t" style="left:75.14px;top:384px;font-size:6.4px;color:#4a4a4a;-webkit-text-stroke:0.08px #4a4a4a;">2.5</div>
<div class="a" style="left:112.05px;top:266px;width:0.9px;height:111.5px;background:#e2e2e2"></div>
<div class="t" style="left:110.90px;top:384px;font-size:6.4px;color:#4a4a4a;-webkit-text-stroke:0.08px #4a4a4a;">5</div>
<div class="a" style="left:145.15px;top:266px;width:0.9px;height:111.5px;background:#e2e2e2"></div>
<div class="t" style="left:141.34px;top:384px;font-size:6.4px;color:#4a4a4a;-webkit-text-stroke:0.08px #4a4a4a;">7.5</div>
<div class="a" style="left:178.25px;top:266px;width:0.9px;height:111.5px;background:#e2e2e2"></div>
<div class="t" style="left:175.32px;top:384px;font-size:6.4px;color:#4a4a4a;-webkit-text-stroke:0.08px #4a4a4a;">10</div>
<div class="a" style="left:211.35px;top:266px;width:0.9px;height:111.5px;background:#e2e2e2"></div>
<div class="t" style="left:205.76px;top:384px;font-size:6.4px;color:#4a4a4a;-webkit-text-stroke:0.08px #4a4a4a;">12.5</div>
<div class="a" style="left:244.45px;top:266px;width:0.9px;height:111.5px;background:#e2e2e2"></div>
<div class="t" style="left:242.32px;top:384px;font-size:6.4px;color:#4a4a4a;-webkit-text-stroke:0.08px #4a4a4a;">15</div>
<div class="a" style="left:277.55px;top:266px;width:0.9px;height:111.5px;background:#e2e2e2"></div>
<div class="t" style="left:272.76px;top:384px;font-size:6.4px;color:#4a4a4a;-webkit-text-stroke:0.08px #4a4a4a;">17.5</div>
<div class="a" style="left:310.65px;top:266px;width:0.9px;height:111.5px;background:#e2e2e2"></div>
<div class="t" style="left:305.32px;top:384px;font-size:6.4px;color:#4a4a4a;-webkit-text-stroke:0.08px #4a4a4a;">20</div>
<div class="t" style="left:17.60px;top:276px;font-size:6.6px;color:#444;transform:scaleX(0.977);-webkit-text-stroke:0.1px #444;">Critical</div>
<div class="a" style="left:46.30px;top:272.40px;width:39.72px;height:11.3px;background:#5aa579"></div>
<div class="a" style="left:86.02px;top:272.40px;width:13.24px;height:11.3px;background:#ea8a7c"></div>
<div class="a" style="left:99.26px;top:272.40px;width:52.96px;height:11.3px;background:#5697cc"></div>
<div class="t" style="left:24.10px;top:298px;font-size:6.6px;color:#444;transform:scaleX(0.986);-webkit-text-stroke:0.1px #444;">High</div>
<div class="a" style="left:46.30px;top:294.65px;width:39.72px;height:11.3px;background:#5aa579"></div>
<div class="a" style="left:86.02px;top:294.65px;width:13.24px;height:11.3px;background:#ea8a7c"></div>
<div class="a" style="left:99.26px;top:294.65px;width:89.37px;height:11.3px;background:#5697cc"></div>
<div class="t" style="left:26.10px;top:320px;font-size:6.6px;color:#444;transform:scaleX(0.949);-webkit-text-stroke:0.1px #444;">Low</div>
<div class="a" style="left:46.30px;top:316.90px;width:39.72px;height:11.3px;background:#5aa579"></div>
<div class="a" style="left:86.02px;top:316.90px;width:26.48px;height:11.3px;background:#ea8a7c"></div>
<div class="a" style="left:112.50px;top:316.90px;width:13.24px;height:11.3px;background:#5697cc"></div>
<div class="t" style="left:14.90px;top:342px;font-size:6.6px;color:#444;transform:scaleX(0.956);-webkit-text-stroke:0.1px #444;">Medium</div>
<div class="a" style="left:46.30px;top:339.15px;width:119.16px;height:11.3px;background:#5aa579"></div>
<div class="a" style="left:165.46px;top:339.15px;width:66.20px;height:11.3px;background:#ea8a7c"></div>
<div class="a" style="left:231.66px;top:339.15px;width:19.86px;height:11.3px;background:#5697cc"></div>
<div class="t" style="left:18.50px;top:364px;font-size:6.6px;color:#444;transform:scaleX(0.967);-webkit-text-stroke:0.1px #444;">Urgent</div>
<div class="a" style="left:46.30px;top:361.40px;width:52.96px;height:11.3px;background:#5aa579"></div>
<div class="a" style="left:99.26px;top:361.40px;width:26.48px;height:11.3px;background:#5697cc"></div>
<div class="t" style="left:157.00px;top:395px;font-size:6.4px;color:#bdbdbd;transform:scaleX(0.988);-webkit-text-stroke:0.07px #bdbdbd;">Total of Requests</div>
<div class="a" style="left:92.3px;top:407.6px;width:6.2px;height:6.2px;border-radius:50%;background:#4a8fd0"></div>
<div class="t" style="left:101.00px;top:408px;font-size:6.5px;color:#505050;-webkit-text-stroke:0.1px #505050;">Incident</div>
<div class="a" style="left:136px;top:407.6px;width:6.2px;height:6.2px;border-radius:50%;background:#e4806f"></div>
<div class="t" style="left:145.40px;top:408px;font-size:6.5px;color:#505050;-webkit-text-stroke:0.1px #505050;">Question</div>
<div class="a" style="left:183px;top:407.6px;width:6.2px;height:6.2px;border-radius:50%;background:#4f9a6b"></div>
<div class="t" style="left:192.30px;top:408px;font-size:6.5px;color:#505050;transform:scaleX(0.948);-webkit-text-stroke:0.1px #505050;">Service Request</div>
<div class="a" style="left:0;top:400px;width:624px;height:29px;background:linear-gradient(to bottom, rgba(50,50,55,0) 0%, rgba(50,50,55,0.03) 17%, rgba(50,50,55,0.10) 45%, rgba(50,50,55,0.29) 69%, rgba(50,50,55,0.42) 88%, rgba(50,50,55,0.5) 100%)"></div>
<div class="a" style="left:18px;top:426.5px;width:606px;height:2.5px;background:linear-gradient(to bottom,rgba(40,40,80,0.06),rgba(40,40,80,0.16))"></div>
</div></body></html>
